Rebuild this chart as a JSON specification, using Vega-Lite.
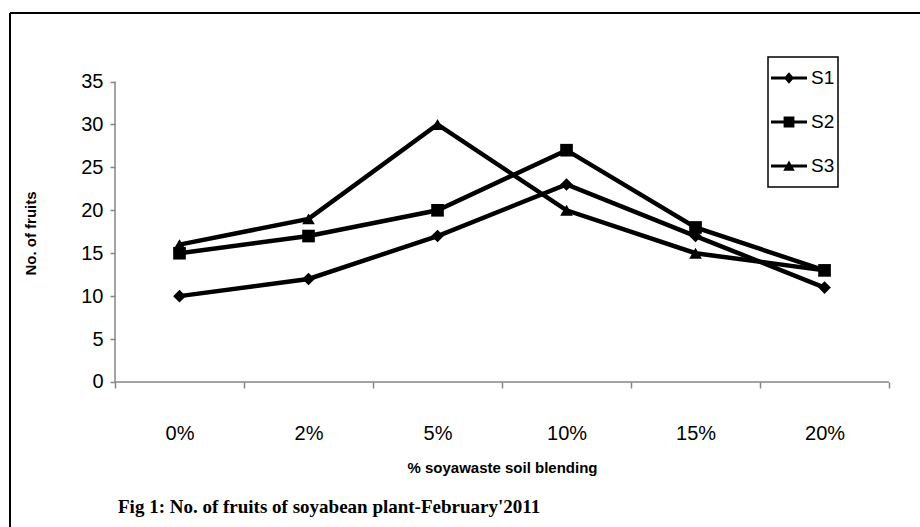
{
  "$schema": "https://vega.github.io/schema/vega-lite/v6.json",
  "width": 910,
  "height": 514,
  "autosize": {"type": "none"},
  "padding": {"left": 10, "top": 13, "right": 0, "bottom": 0},
  "background": "white",
  "config": {
    "view": {"stroke": null},
    "font": "Liberation Sans",
    "legend": {"strokeWidth": 1.5}
  },
  "title": {
    "text": "Fig 1: No. of fruits of soyabean plant-February'2011",
    "orient": "bottom",
    "anchor": "start",
    "frame": "group",
    "font": "Liberation Serif",
    "fontSize": 19,
    "fontWeight": "bold",
    "color": "black",
    "dx": 108,
    "offset": -30
  },
  "data": {
    "values": [
      {"idx": 0, "pct": "0%", "series": "S1", "value": 10},
      {"idx": 1, "pct": "2%", "series": "S1", "value": 12},
      {"idx": 2, "pct": "5%", "series": "S1", "value": 17},
      {"idx": 3, "pct": "10%", "series": "S1", "value": 23},
      {"idx": 4, "pct": "15%", "series": "S1", "value": 17},
      {"idx": 5, "pct": "20%", "series": "S1", "value": 11},
      {"idx": 0, "pct": "0%", "series": "S2", "value": 15},
      {"idx": 1, "pct": "2%", "series": "S2", "value": 17},
      {"idx": 2, "pct": "5%", "series": "S2", "value": 20},
      {"idx": 3, "pct": "10%", "series": "S2", "value": 27},
      {"idx": 4, "pct": "15%", "series": "S2", "value": 18},
      {"idx": 5, "pct": "20%", "series": "S2", "value": 13},
      {"idx": 0, "pct": "0%", "series": "S3", "value": 16},
      {"idx": 1, "pct": "2%", "series": "S3", "value": 19},
      {"idx": 2, "pct": "5%", "series": "S3", "value": 30},
      {"idx": 3, "pct": "10%", "series": "S3", "value": 20},
      {"idx": 4, "pct": "15%", "series": "S3", "value": 15},
      {"idx": 5, "pct": "20%", "series": "S3", "value": 13}
    ]
  },
  "layer": [
    {
      "data": {"values": [{}]},
      "mark": {"type": "rule", "color": "black", "strokeWidth": 2},
      "encoding": {
        "x": {"datum": -1.314, "type": "quantitative", "axis": null, "scale": {"domain": [-1.314, 5.74], "nice": false, "zero": false}},
        "y": {"datum": -16.89, "type": "quantitative", "axis": null, "scale": {"domain": [-16.89, 42.98], "nice": false, "zero": false}},
        "y2": {"datum": 42.98}
      }
    },
    {
      "data": {"values": [{}]},
      "mark": {"type": "rule", "color": "black", "strokeWidth": 2},
      "encoding": {
        "x": {"datum": -1.314, "type": "quantitative", "axis": null, "scale": {"domain": [-1.314, 5.74], "nice": false, "zero": false}},
        "x2": {"datum": 5.74},
        "y": {"datum": 42.98, "type": "quantitative", "axis": null, "scale": {"domain": [-16.89, 42.98], "nice": false, "zero": false}}
      }
    },
    {
      "data": {"values": [{}]},
      "mark": {"type": "rule", "color": "#868686", "strokeWidth": 1.5},
      "encoding": {
        "x": {"datum": -0.5, "type": "quantitative", "axis": null, "scale": {"domain": [-1.314, 5.74], "nice": false, "zero": false}},
        "y": {
          "datum": 0, "type": "quantitative",
          "scale": {"domain": [-16.89, 42.98], "nice": false, "zero": false},
          "axis": {
            "orient": "left", "offset": -105,
            "values": [0, 5, 10, 15, 20, 25, 30, 35],
            "domain": false, "grid": false,
            "ticks": true, "tickSize": 5, "tickColor": "#868686", "tickWidth": 1.5,
            "labelFontSize": 20, "labelColor": "black", "labelPadding": 7,
            "title": "No. of fruits",
            "titleFontSize": 15, "titleFontWeight": "bold", "titleColor": "black",
            "titleX": -85, "titleY": 220, "titleAngle": -90, "titleBaseline": "middle"
          }
        },
        "y2": {"datum": 35}
      }
    },
    {
      "data": {"values": [{}]},
      "mark": {"type": "rule", "color": "#868686", "strokeWidth": 1.5},
      "encoding": {
        "x": {
          "datum": -0.5, "type": "quantitative",
          "scale": {"domain": [-1.314, 5.74], "nice": false, "zero": false},
          "axis": {
            "orient": "bottom", "offset": -145,
            "values": [-0.5, 0.5, 1.5, 2.5, 3.5, 4.5, 5.5],
            "labels": false, "domain": false, "grid": false,
            "ticks": true, "tickSize": 6, "tickColor": "#868686", "tickWidth": 1.5,
            "title": null
          }
        },
        "x2": {"datum": 5.5},
        "y": {"datum": 0, "type": "quantitative", "axis": null, "scale": {"domain": [-16.89, 42.98], "nice": false, "zero": false}}
      }
    },
    {
      "mark": {"type": "line", "color": "black", "strokeWidth": 4.5},
      "encoding": {
        "x": {
          "field": "idx", "type": "quantitative",
          "scale": {"domain": [-1.314, 5.74], "nice": false, "zero": false},
          "axis": {
            "orient": "bottom", "offset": -145,
            "values": [0, 1, 2, 3, 4, 5],
            "ticks": false, "tickSize": 0, "domain": false, "grid": false,
            "labelExpr": "['0%','2%','5%','10%','15%','20%'][datum.value]",
            "labelFontSize": 20, "labelColor": "black", "labelPadding": 41,
            "title": "% soyawaste soil blending",
            "titleFontSize": 15, "titleFontWeight": "bold", "titleColor": "black",
            "titleX": 492, "titleY": 85, "titleBaseline": "middle"
          }
        },
        "y": {"field": "value", "type": "quantitative", "axis": null, "scale": {"domain": [-16.89, 42.98], "nice": false, "zero": false}},
        "detail": {"field": "series"}
      }
    },
    {
      "mark": {"type": "point", "filled": true, "color": "black", "opacity": 1, "size": 160},
      "encoding": {
        "x": {"field": "idx", "type": "quantitative", "axis": null, "scale": {"domain": [-1.314, 5.74], "nice": false, "zero": false}},
        "y": {"field": "value", "type": "quantitative", "axis": null, "scale": {"domain": [-16.89, 42.98], "nice": false, "zero": false}},
        "shape": {
          "field": "series", "type": "nominal",
          "scale": {"domain": ["S1", "S2", "S3"], "range": ["diamond", "square", "triangle-up"]},
          "legend": null
        }
      }
    },
    {
      "mark": {"type": "point", "filled": true, "color": "black", "opacity": 0},
      "encoding": {
        "x": {"field": "idx", "type": "quantitative", "axis": null, "scale": {"domain": [-1.314, 5.74], "nice": false, "zero": false}},
        "y": {"field": "value", "type": "quantitative", "axis": null, "scale": {"domain": [-16.89, 42.98], "nice": false, "zero": false}},
        "shape": {
          "field": "series", "type": "nominal",
          "scale": {
            "domain": ["S1", "S2", "S3"],
            "range": [
              "M-0.01,-1H0.01Z M-0.01,1H0.01Z M-1,-0.08H1V0.08H-1Z M0,-0.32L0.28,0L0,0.32L-0.28,0Z",
              "M-0.01,-1H0.01Z M-0.01,1H0.01Z M-1,-0.08H1V0.08H-1Z M-0.3,-0.3H0.3V0.3H-0.3Z",
              "M-0.01,-1H0.01Z M-0.01,1H0.01Z M-1,-0.08H1V0.08H-1Z M0,-0.3L0.32,0.26H-0.32Z"
            ]
          },
          "legend": {
            "orient": "none", "legendX": 758, "legendY": 44,
            "title": null,
            "strokeColor": "black", "fillColor": "white",
            "padding": 3,
            "symbolSize": 1296,
            "symbolFillColor": "black", "symbolStrokeColor": "black", "symbolStrokeWidth": 0,
            "symbolOpacity": 1,
            "labelFontSize": 19, "labelColor": "black", "labelOffset": 4,
            "rowPadding": 8
          }
        }
      }
    }
  ],
  "resolve": {"scale": {"shape": "independent"}, "axis": {"x": "independent", "y": "independent"}}
}
